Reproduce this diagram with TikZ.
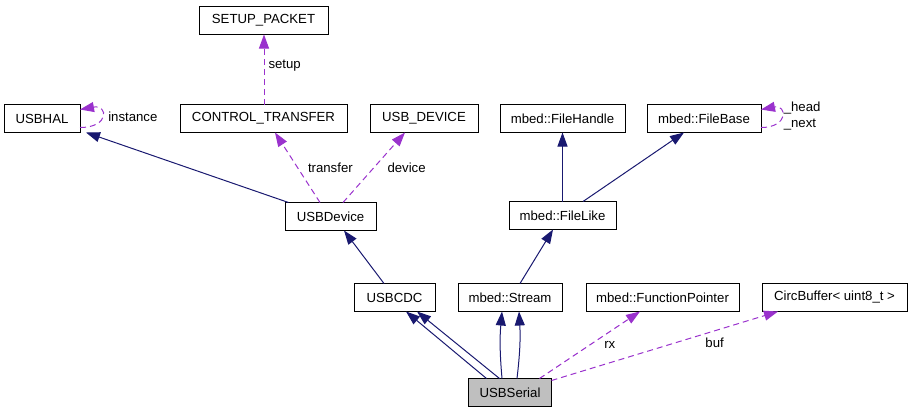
\documentclass[tikz,border=0pt]{standalone}
\usepackage{fontspec}
\setmainfont{Liberation Sans}
\usetikzlibrary{positioning}
\usetikzlibrary{arrows.meta}
\definecolor{inhblue}{HTML}{191970}
\definecolor{usepurple}{HTML}{9A32CD}

\begin{document}
\begin{tikzpicture}[
                x=1pt, y=-1pt,
                cls/.style = {
                    draw,
                    line width = 0.9pt,
                    minimum width = #1,
                    minimum height = 28pt,
                    inner sep = 0pt,
                    outer sep = 0pt,
                    font = \fontsize{13.2}{15}\selectfont
                },
                cls/.default = 80pt,
                inh/.style = {line width = 1pt, inhblue, -{Triangle[length=14pt, width=10pt]}},
                member/.style = {line width = 1pt, usepurple, dash pattern = on 6pt off 4pt, -{Triangle[length=14pt, width=10pt]}},
                lbl/.style = {black, inner sep = 0pt, font = \fontsize{13.2}{15}\selectfont}
            ]
            \useasboundingbox (0,0) rectangle (912,413);
            % 
            \node[cls=76pt] (hal) at (42,118.5) {USBHAL};
            \node[cls=167pt, right=100pt of hal] (ctrl) {CONTROL\_TRANSFER};
            \node[cls=108pt, right=23pt of ctrl] (dev) {USB\_DEVICE};
            \node[cls=125pt, right=22pt of dev] (handle) {mbed::FileHandle};
            \node[cls=114pt, right=22pt of handle] (base) {mbed::FileBase};
            % 
            \node[cls=129pt, above=70pt of ctrl] (setup) {SETUP\_PACKET};
            % 
            \node[cls=91pt] (usbdev) at (330.5,216.5) {USBDevice};
            \node[cls=107pt, below=69pt of handle] (like) {mbed::FileLike};
            % 
            \node[cls=81pt] (cdc) at (394.5,297.5) {USBCDC};
            \node[cls=104pt, right=23pt of cdc] (stream) {mbed::Stream};
            \node[cls=153pt, right=24pt of stream] (fp) {mbed::FunctionPointer};
            \node[cls=145pt, right=23pt of fp] (circ) {CircBuffer< uint8\_t >};
            % 
            \node[cls=83pt, fill={rgb,255:red,191;green,191;blue,191}, below=67pt of stream] (serial) {USBSerial};
            % 
            \draw[member] ([yshift=-9pt]hal.east) .. controls +(30pt,0pt) and +(28pt,5pt) .. ([yshift=9pt]hal.east)
                node[lbl, pos=0.5, right=6pt] {instance};
            \draw[member] ([yshift=-9pt]base.east) .. controls +(28pt,0pt) and +(26pt,5pt) .. ([yshift=9pt]base.east)
                node[lbl, pos=0.5, anchor=west, xshift=2pt, yshift=9pt] {\_head}
                node[lbl, pos=0.5, anchor=west, xshift=2pt, yshift=-8pt] {\_next};
            % 
            \draw[member] ([xshift=0.5pt]ctrl.north) -- node[lbl, pos=0.55, right=4pt]{setup} ([xshift=0.5pt]setup.south);
            \draw[inh] ([xshift=-42pt]usbdev.north) -- ([xshift=6pt]hal.south east);
            \draw[member] ([xshift=-10.5pt]usbdev.north) -- node[lbl, pos=0.5, right=10pt]{transfer} ([xshift=11.5pt]ctrl.south);
            \draw[member] ([xshift=12.5pt]usbdev.north) -- node[lbl, pos=0.5, right=13pt]{device} ([xshift=-19pt]dev.south);
            % 
            \draw[inh] (like) -- (handle);
            \draw[inh] ([xshift=20.5pt]like.north) -- ([xshift=-20pt]base.south);
            % 
            \draw[inh] ([xshift=-10.5pt]cdc.north) -- ([xshift=13.5pt]usbdev.south);
            \draw[inh] ([xshift=10pt]stream.north) -- ([xshift=-9.5pt]like.south);
            % 
            \draw[inh] ([xshift=-23.5pt]serial.north) -- ([xshift=11.5pt]cdc.south);
            \draw[inh] ([xshift=-10.5pt]serial.north) -- ([xshift=22.5pt]cdc.south);
            \draw[inh] ([xshift=-8pt]serial.north) to[bend left=5] ([xshift=-8pt]stream.south);
            \draw[inh] ([xshift=7pt]serial.north) to[bend right=5] ([xshift=9pt]stream.south);
            \draw[member] ([xshift=29.5pt]serial.north) -- node[lbl, pos=0.5, right=14pt]{rx} ([xshift=-22.5pt]fp.south);
            \draw[member] ([yshift=-2pt]serial.north east) -- node[lbl, pos=0.72, below=7pt]{buf} ([xshift=-56.5pt]circ.south);
            % 
        \end{tikzpicture}
\end{document}
